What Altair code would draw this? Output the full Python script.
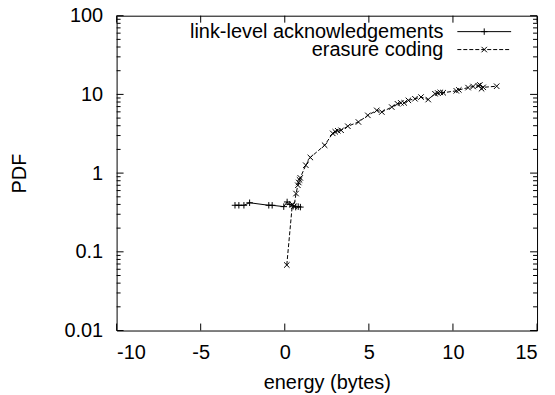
import altair as alt
import pandas as pd

# ---- data ----
link_x = [-2.96, -2.73, -2.43, -2.09, -0.95, -0.75, -0.06, 0.14, 0.30, 0.50, 0.65, 0.80, 0.93]
link_y = [0.39, 0.39, 0.39, 0.42, 0.39, 0.39, 0.375, 0.43, 0.40, 0.38, 0.37, 0.375, 0.37]

eras_x = [0.12, 0.45, 0.55, 0.67, 0.78, 0.83, 0.88, 0.92, 1.25, 1.52, 2.37,
          2.85, 3.0, 3.15, 3.35, 3.75, 4.38, 4.94, 5.47, 5.77, 6.36,
          6.7, 6.9, 7.1, 7.35, 7.74, 8.1, 8.53, 8.93, 9.1, 9.25, 9.42,
          10.2, 10.35, 10.9, 11.2, 11.5, 11.6, 11.7, 11.8, 12.6]
eras_y = [0.068, 0.40, 0.38, 0.55, 0.70, 0.76, 0.82, 0.87, 1.26, 1.58, 2.26,
          3.2, 3.35, 3.45, 3.5, 3.94, 4.46, 5.42, 6.27, 5.97, 6.9,
          7.6, 7.8, 7.8, 8.4, 8.8, 9.25, 8.6, 10.2, 10.4, 10.6, 10.5,
          11.1, 11.4, 12.2, 12.6, 12.9, 13.2, 11.8, 12.3, 12.7]

series_names = ["link-level acknowledgements", "erasure coding"]
x_ticks = [-10, -5, 0, 5, 10, 15]
y_ticks = [0.01, 0.1, 1, 10, 100]
y_minor = [d * k for d in [0.01, 0.1, 1, 10] for k in range(2, 10)]

W, H = 422, 316
FONT = "Liberation Sans"
FS = 20

xscale = alt.Scale(domain=[-10, 15], nice=False, zero=False)
yscale = alt.Scale(type="log", domain=[0.01, 100], nice=False)

plus_shape = "M-1,0L1,0M0,-1L0,1"
cross_shape = "M-1,-1L1,1M-1,1L1,-1"

link_df = pd.DataFrame({"x": link_x, "y": link_y})
eras_df = pd.DataFrame({"x": eras_x, "y": eras_y})

xaxis = alt.Axis(values=x_ticks, labelExpr="'' + datum.value",
                 ticks=False, tickSize=0, domain=False, grid=False,
                 labelFont=FONT, labelFontSize=FS, labelColor="black", labelPadding=12,
                 title="energy (bytes)", titleFont=FONT, titleFontSize=FS,
                 titleFontWeight="normal", titleColor="black",
                 titleX=W / 2, titleY=58, titleBaseline="alphabetic", titleAlign="center")
yaxis = alt.Axis(values=y_ticks, format="~g", ticks=False, tickSize=0, domain=False, grid=False,
                 labelFont=FONT, labelFontSize=FS, labelColor="black", labelPadding=14,
                 title="PDF", titleFont=FONT, titleFontSize=FS,
                 titleFontWeight="normal", titleColor="black",
                 titleAngle=-90, titleX=-97, titleY=H / 2, titleBaseline="middle",
                 titleAlign="center")

X = alt.X("x:Q", scale=xscale, axis=xaxis)
Y = alt.Y("y:Q", scale=yscale, axis=yaxis)

link_line = alt.Chart(link_df).mark_line(color="black", strokeWidth=1).encode(x=X, y=Y)
link_pts = alt.Chart(link_df).mark_point(shape=plus_shape, filled=False, color="black",
                                         size=42, strokeWidth=1, opacity=1).encode(x=X, y=Y)
eras_line = alt.Chart(eras_df).mark_line(color="black", strokeWidth=1,
                                         strokeDash=[4, 2]).encode(x=X, y=Y)
eras_pts = alt.Chart(eras_df).mark_point(shape=cross_shape, filled=False, color="black",
                                         size=30, strokeWidth=1, opacity=1).encode(x=X, y=Y)

# ---- inward ticks on all four sides ----
xt_df = pd.DataFrame({"x": x_ticks})
yt_df = pd.DataFrame({"y": y_ticks})
ym_df = pd.DataFrame({"y": y_minor})
MAJ, MIN = 7, 4

def xrule(df, y0, y1):
    return alt.Chart(df).mark_rule(color="black", strokeWidth=1).encode(
        x=X, y=alt.value(y0), y2=alt.value(y1))

def yrule(df, x0, x1):
    return alt.Chart(df).mark_rule(color="black", strokeWidth=1).encode(
        y=Y, x=alt.value(x0), x2=alt.value(x1))

ticks = [
    xrule(xt_df, H, H - MAJ), xrule(xt_df, 0, MAJ),
    yrule(yt_df, 0, MAJ), yrule(yt_df, W, W - MAJ),
    yrule(ym_df, 0, MIN), yrule(ym_df, W, W - MIN),
]

# ---- gnuplot-style key (text right, sample right of it) ----
key_text_x, key_l0, key_l1 = 328, 342, 396
rows_y = [16, 34]
key_layers = []
for i, name in enumerate(series_names):
    d = pd.DataFrame({"label": [name]})
    key_layers.append(alt.Chart(d).mark_text(align="right", baseline="middle", font=FONT,
                                             fontSize=FS, color="black").encode(
        text="label:N", x=alt.value(key_text_x), y=alt.value(rows_y[i])))
    rule_kw = dict(color="black", strokeWidth=1)
    if i == 1:
        rule_kw["strokeDash"] = [4, 2]
    key_layers.append(alt.Chart(d).mark_rule(**rule_kw).encode(
        x=alt.value(key_l0), x2=alt.value(key_l1), y=alt.value(rows_y[i])))
    key_layers.append(alt.Chart(d).mark_point(shape=plus_shape if i == 0 else cross_shape,
                                              filled=False, color="black",
                                              size=42 if i == 0 else 30, strokeWidth=1,
                                              opacity=1).encode(
        x=alt.value((key_l0 + key_l1) / 2), y=alt.value(rows_y[i])))

chart = alt.layer(link_line, eras_line, link_pts, eras_pts, *ticks, *key_layers).properties(
    width=W, height=H,
    autosize=alt.AutoSizeParams(type="none"),
    padding={"left": 109, "top": 7, "right": 10, "bottom": 64},
    background="white",
).configure_view(stroke="black", strokeWidth=1)

chart.save("out.html", embed_options={"renderer": "svg", "actions": False})
